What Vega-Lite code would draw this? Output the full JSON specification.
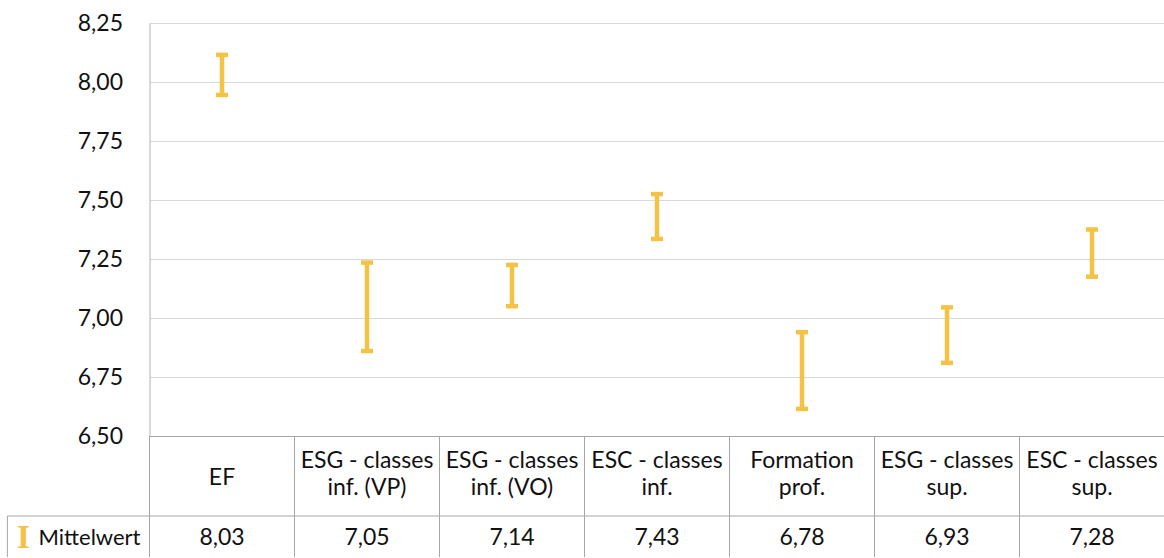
{
  "$schema": "https://vega.github.io/schema/vega-lite/v6.json",
  "padding": {"left": 6.5, "top": 12, "right": 0, "bottom": 0},
  "autosize": {"type": "pad"},
  "bounds": "flush",
  "spacing": 0,
  "resolve": {"scale": {"x": "independent"}},
  "config": {
    "view": {"stroke": null},
    "font": "Lato",
    "locale": {"number": {"decimal": ",", "thousands": ".", "grouping": [3], "currency": ["", " €"]}},
    "text": {"font": "Lato", "fontSize": 23, "color": "#111111"}
  },
  "datasets": {
    "schulen": [
      {"Schulform": "EF", "Mittelwert": 8.03, "Untergrenze": 7.945, "Obergrenze": 8.115},
      {"Schulform": "ESG - classes\ninf. (VP)", "Mittelwert": 7.05, "Untergrenze": 6.86, "Obergrenze": 7.235},
      {"Schulform": "ESG - classes\ninf. (VO)", "Mittelwert": 7.14, "Untergrenze": 7.05, "Obergrenze": 7.225},
      {"Schulform": "ESC - classes\ninf.", "Mittelwert": 7.43, "Untergrenze": 7.335, "Obergrenze": 7.525},
      {"Schulform": "Formation\nprof.", "Mittelwert": 6.78, "Untergrenze": 6.615, "Obergrenze": 6.94},
      {"Schulform": "ESG - classes\nsup.", "Mittelwert": 6.93, "Untergrenze": 6.81, "Obergrenze": 7.045},
      {"Schulform": "ESC - classes\nsup.", "Mittelwert": 7.28, "Untergrenze": 7.175, "Obergrenze": 7.375}
    ],
    "legende": [{"Schulform": "Mittelwert"}]
  },
  "vconcat": [
    {
      "width": 1015,
      "height": 413,
      "data": {"name": "schulen"},
      "encoding": {
        "x": {"field": "Schulform", "type": "nominal", "sort": null, "axis": null,
              "scale": {"paddingInner": 0, "paddingOuter": 0}}
      },
      "layer": [
        {
          "mark": {"type": "rule", "color": "#F4C245", "strokeWidth": 4.5},
          "encoding": {
            "y": {"field": "Untergrenze", "type": "quantitative",
                  "scale": {"domain": [6.5, 8.25], "nice": false, "zero": false},
                  "axis": {"title": null, "values": [6.5, 6.75, 7, 7.25, 7.5, 7.75, 8, 8.25], "format": ".2f",
                           "ticks": false, "domain": true, "domainColor": "#B4B4B4", "grid": true,
                           "gridColor": {"condition": {"test": "datum.value <= 6.5", "value": "#A6A6A6"}, "value": "#D9D9D9"},
                           "labelFont": "Lato", "labelFontSize": 23, "labelColor": "#111111", "labelPadding": 27}},
            "y2": {"field": "Obergrenze"}
          }
        },
        {
          "mark": {"type": "tick", "color": "#F4C245", "size": 12, "thickness": 4.5, "orient": "horizontal", "opacity": 1},
          "encoding": {"y": {"field": "Untergrenze", "type": "quantitative"}}
        },
        {
          "mark": {"type": "tick", "color": "#F4C245", "size": 12, "thickness": 4.5, "orient": "horizontal", "opacity": 1},
          "encoding": {"y": {"field": "Obergrenze", "type": "quantitative"}}
        }
      ]
    },
    {
      "width": 1015,
      "height": 80,
      "data": {"name": "schulen"},
      "encoding": {
        "x": {"field": "Schulform", "type": "nominal", "sort": null, "axis": null,
              "scale": {"paddingInner": 0, "paddingOuter": 0}}
      },
      "layer": [
        {
          "mark": {"type": "rule", "color": "#A6A6A6", "strokeWidth": 1},
          "encoding": {"x": {"field": "Schulform", "type": "nominal", "sort": null, "bandPosition": 0}}
        },
        {
          "transform": [{"filter": "indexof(datum.Schulform, '\\n') >= 0"}],
          "mark": {"type": "text", "lineBreak": "\n", "lineHeight": 27, "align": "center", "baseline": "middle", "dy": -15},
          "encoding": {"text": {"field": "Schulform"}}
        },
        {
          "transform": [{"filter": "indexof(datum.Schulform, '\\n') < 0"}],
          "mark": {"type": "text", "align": "center", "baseline": "middle", "dy": 2},
          "encoding": {"text": {"field": "Schulform"}}
        }
      ]
    },
    {
      "width": 1015,
      "height": 41,
      "encoding": {
        "x": {"field": "Schulform", "type": "nominal", "sort": null, "axis": null,
              "scale": {"domain": ["Mittelwert", "EF", "ESG - classes\ninf. (VP)", "ESG - classes\ninf. (VO)", "ESC - classes\ninf.", "Formation\nprof.", "ESG - classes\nsup.", "ESC - classes\nsup."],
                        "range": [-145, 1015], "paddingInner": 0, "paddingOuter": 0}}
      },
      "layer": [
        {
          "data": {"name": "schulen"},
          "mark": {"type": "rule", "color": "#A6A6A6", "strokeWidth": 1},
          "encoding": {"x": {"field": "Schulform", "type": "nominal", "bandPosition": 0}}
        },
        {
          "data": {"name": "legende"},
          "mark": {"type": "rule", "color": "#A6A6A6", "strokeWidth": 1},
          "encoding": {"x": {"field": "Schulform", "type": "nominal", "bandPosition": 0.02}}
        },
        {
          "data": {"name": "schulen"},
          "mark": {"type": "rule", "color": "#A6A6A6", "strokeWidth": 1},
          "encoding": {
            "x": {"field": "Schulform", "type": "nominal", "bandPosition": 0},
            "x2": {"field": "Schulform", "bandPosition": 1},
            "y": {"datum": 1, "type": "quantitative", "scale": {"domain": [0, 1], "nice": false}, "axis": null}
          }
        },
        {
          "data": {"name": "legende"},
          "mark": {"type": "rule", "color": "#A6A6A6", "strokeWidth": 1},
          "encoding": {
            "x": {"field": "Schulform", "type": "nominal", "bandPosition": 0.02},
            "x2": {"field": "Schulform", "bandPosition": 1},
            "y": {"datum": 1, "type": "quantitative"}
          }
        },
        {
          "data": {"name": "schulen"},
          "mark": {"type": "text", "align": "center", "baseline": "middle", "dy": 1},
          "encoding": {"text": {"field": "Mittelwert", "type": "quantitative", "format": ".2f"}}
        },
        {
          "data": {"name": "legende"},
          "mark": {"type": "text", "align": "left", "baseline": "middle", "dx": -38.5, "dy": 1, "fontSize": 22},
          "encoding": {"text": {"field": "Schulform"}}
        },
        {
          "data": {"name": "legende"},
          "mark": {"type": "text", "align": "center", "baseline": "middle", "dx": -53.5, "dy": 1, "text": "I",
                   "font": "Liberation Serif", "fontWeight": "bold", "fontSize": 33, "color": "#F4C245"}
        }
      ]
    }
  ]
}
